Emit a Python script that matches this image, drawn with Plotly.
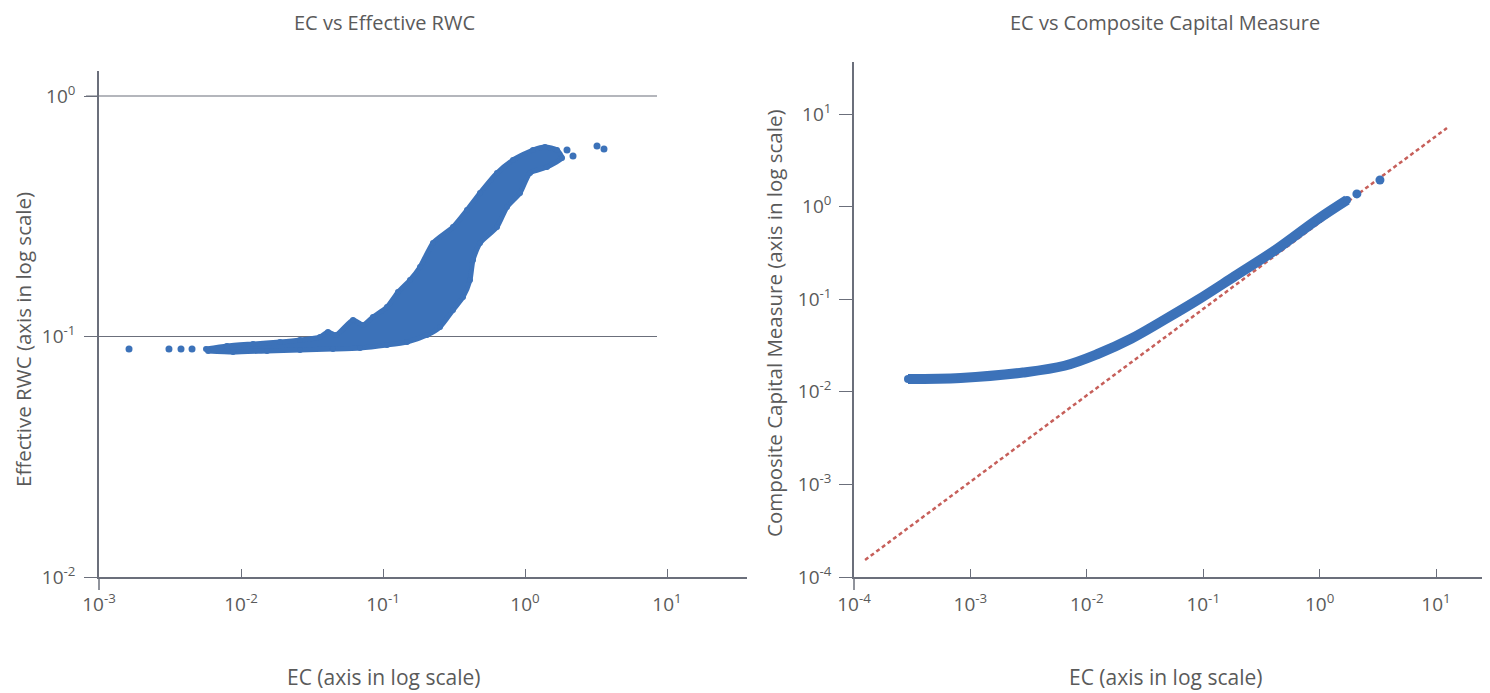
import plotly.graph_objects as go

# ---------------- Left panel: EC vs Effective RWC ----------------
# Outline of the dense point cloud, going along the
# upper edge left->right and back along the lower edge right->left.
left_band_ec = [0.00567, 0.00796, 0.01215, 0.01882, 0.02603, 0.0360, 0.0410, 0.0467,
                0.0615, 0.0723, 0.0850, 0.1067, 0.1275, 0.1549, 0.1823, 0.2249,
                0.3112, 0.3904, 0.4820, 0.6352, 0.8233, 1.138, 1.383, 1.680, 1.822,
                1.428, 1.084, 0.9222, 0.7466, 0.6352, 0.4820, 0.4303, 0.4100, 0.3660,
                0.3112, 0.2520, 0.2041, 0.1476, 0.1067, 0.0689, 0.0444, 0.02603,
                0.01524, 0.00879, 0.00586]
left_band_rwc = [0.0887, 0.0913, 0.0931, 0.0949, 0.0967, 0.0995, 0.1044, 0.1014,
                 0.1171, 0.1116, 0.1205, 0.1327, 0.1531, 0.1717, 0.1945, 0.2447,
                 0.2853, 0.3357, 0.3951, 0.4784, 0.5419, 0.5963, 0.6137, 0.5963, 0.5523,
                 0.5068, 0.4784, 0.3951, 0.3455, 0.2853, 0.2447, 0.2080, 0.1717, 0.1460,
                 0.1289, 0.1095, 0.1014, 0.0949, 0.0922, 0.0896, 0.0887, 0.0879,
                 0.0871, 0.0862, 0.0871]
# Isolated points
left_single_ec = [0.001627, 0.00311, 0.00378, 0.00452, 1.976, 2.178, 3.214, 3.600]
left_single_rwc = [0.0887, 0.0887, 0.0887, 0.0887, 0.5963, 0.5630, 0.6195, 0.6020]

# ---------------- Right panel: EC vs Composite Capital Measure ----------------
right_curve_ec = [2.91e-4, 8.24e-4, 2.83e-3, 6.43e-3, 0.0124, 0.024, 0.046,
                  0.0895, 0.1875, 0.428, 0.968, 1.72]
right_curve_ccm = [0.01374, 0.0141, 0.01614, 0.0191, 0.0256, 0.0374, 0.0596,
                   0.098, 0.178, 0.348, 0.734, 1.18]
right_single_ec = [2.09, 3.30]
right_single_ccm = [1.37, 1.94]
ref_line_ec = [1.245e-4, 12.42]
ref_line_ccm = [1.528e-4, 7.06]

# ---------------- Tick labels ----------------
left_x_vals = [1e-3, 1e-2, 1e-1, 1, 10]
left_x_text = ["10<sup>-3</sup>", "10<sup>-2</sup>", "10<sup>-1</sup>", "10<sup>0</sup>", "10<sup>1</sup>"]
left_y_vals = [1e-2, 1e-1, 1]
left_y_text = ["10<sup>-2</sup>", "10<sup>-1</sup>", "10<sup>0</sup>"]
right_x_vals = [1e-4, 1e-3, 1e-2, 1e-1, 1, 10]
right_x_text = ["10<sup>-4</sup>", "10<sup>-3</sup>", "10<sup>-2</sup>", "10<sup>-1</sup>", "10<sup>0</sup>", "10<sup>1</sup>"]
right_y_vals = [1e-4, 1e-3, 1e-2, 1e-1, 1, 10]
right_y_text = ["10<sup>-4</sup>", "10<sup>-3</sup>", "10<sup>-2</sup>", "10<sup>-1</sup>", "10<sup>0</sup>", "10<sup>1</sup>"]

BLUE = "#3c72b9"
AXIS = "#6b6f7b"
TEXT = "#5a5a5a"
FONT = "Open Sans"

# the page body has an 8px margin; the figure is sized to fill the rest
OFF = 8
W, H = 1490 - OFF, 693 - OFF


def fx(px):
    return (px - OFF) / W


def fy(py):
    return 1 - (py - OFF) / H


fig = go.Figure()

fig.add_trace(go.Scatter(
    x=left_band_ec, y=left_band_rwc, mode="lines+markers", fill="toself",
    fillcolor=BLUE, line=dict(color=BLUE, width=5, shape="spline", smoothing=0.6),
    marker=dict(color=BLUE, size=6), xaxis="x", yaxis="y", hoverinfo="skip"))
fig.add_trace(go.Scatter(
    x=left_single_ec, y=left_single_rwc, mode="markers",
    marker=dict(color=BLUE, size=7), xaxis="x", yaxis="y"))

fig.add_trace(go.Scatter(
    x=ref_line_ec, y=ref_line_ccm, mode="lines",
    line=dict(color="#c65f5a", width=2.5, dash="4px,3px"), xaxis="x2", yaxis="y2"))
fig.add_trace(go.Scatter(
    x=right_curve_ec, y=right_curve_ccm, mode="lines+markers",
    line=dict(color=BLUE, width=10, shape="spline"),
    marker=dict(color=BLUE, size=8), xaxis="x2", yaxis="y2"))
fig.add_trace(go.Scatter(
    x=right_single_ec, y=right_single_ccm, mode="markers",
    marker=dict(color=BLUE, size=9), xaxis="x2", yaxis="y2"))

tickfont = dict(family=FONT, size=19, color=TEXT)
common = dict(type="log", showline=True, linecolor=AXIS, linewidth=1.5,
              showgrid=False, zeroline=False, tickcolor=AXIS, tickwidth=1.3,
              tickfont=tickfont, automargin=False, fixedrange=True)

fig.update_layout(
    width=W, height=H,
    margin=dict(l=0, r=0, t=0, b=0),
    paper_bgcolor="white", plot_bgcolor="white",
    showlegend=False,
    xaxis=dict(common, domain=[fx(99), fx(747)], range=[-3, 1.5634], anchor="y",
               tickvals=left_x_vals, ticktext=left_x_text, ticks="inside", ticklen=8,
               ticklabelstandoff=9),
    yaxis=dict(common, domain=[fy(577), fy(71)], range=[-2, 0.104], anchor="x",
               tickvals=left_y_vals, ticktext=left_y_text, ticks="outside", ticklen=13,
               ticklabelstandoff=5),
    xaxis2=dict(common, domain=[fx(854), fx(1483)], range=[-4, 1.4038], anchor="y2",
                tickvals=right_x_vals, ticktext=right_x_text, ticks="inside", ticklen=8,
                ticklabelstandoff=9),
    yaxis2=dict(common, domain=[fy(577), fy(62)], range=[-4, 1.5616], anchor="x2",
                tickvals=right_y_vals, ticktext=right_y_text, ticks="outside", ticklen=13,
                ticklabelstandoff=4),
)

# horizontal reference lines in the left panel
for yv in [1, 0.1]:
    fig.add_shape(type="line", xref="x domain", yref="y", x0=-13 / 648, x1=558 / 648,
                  y0=yv, y1=yv, line=dict(color=AXIS, width=1.2), layer="below")
# y axes extending slightly below the x axes
fig.add_shape(type="line", xref="x domain", yref="y domain", x0=0, x1=0, y0=0, y1=-13 / 506,
              line=dict(color=AXIS, width=1.5))
fig.add_shape(type="line", xref="x2 domain", yref="y2 domain", x0=0, x1=0, y0=0, y1=-13 / 515,
              line=dict(color=AXIS, width=1.5))


def ann(text, xpx, ypx, size, angle=0):
    fig.add_annotation(text=text, x=fx(xpx), y=fy(ypx), xref="paper", yref="paper",
                       showarrow=False, textangle=angle, xanchor="center", yanchor="middle",
                       font=dict(family=FONT, size=size, color=TEXT))


ann("EC vs Effective RWC", 384, 22, 20)
ann("EC vs Composite Capital Measure", 1165, 22, 20)
ann("EC (axis in log scale)", 383, 677, 21)
ann("EC (axis in log scale)", 1165, 677, 21)
ann("Effective RWC (axis in log scale)", 23, 340, 20.5, -90)
ann("Composite Capital Measure (axis in log scale)", 774, 323, 20.5, -90)

fig.write_html("out.html")
